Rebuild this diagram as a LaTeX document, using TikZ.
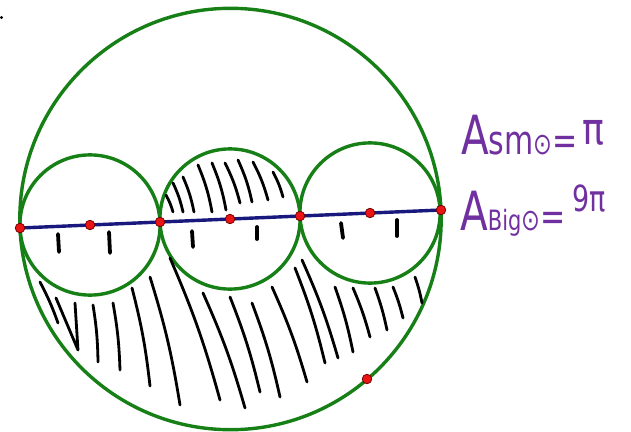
\documentclass[tikz,border=0pt]{standalone}
\usepackage{fontspec}
\newfontfamily\hand{DejaVu Sans}
\definecolor{gc}{RGB}{22,128,22}
\definecolor{bl}{RGB}{24,24,125}
\definecolor{pu}{RGB}{112,48,160}
\definecolor{rd}{RGB}{235,20,20}
\begin{document}
\begin{tikzpicture}[x=1pt,y=-1pt,line join=round,
  ptdot/.style={circle,fill=rd,draw=black!55!red,line width=0.8pt,inner sep=0pt,minimum size=9.5pt},
  greenc/.style={draw=gc,line width=3.4pt},
  hatch/.style={draw=black,line width=2.8pt,line cap=round},
  tickm/.style={draw=black,line width=3.8pt,line cap=round},
  lbl/.style={text=pu,font=\hand\fontsize{40}{40}\selectfont,xscale=0.75,inner sep=0pt,anchor=base west}]
\useasboundingbox (0,0) rectangle (631,431);

% centres
\coordinate (c0) at (230.5,219);
\coordinate (c1) at (90,225);
\coordinate (c2) at (230,219);
\coordinate (c3) at (370,213);

% circles
\draw[greenc] (c0) circle (210.7);
\draw[greenc] (c1) circle (70.1);
\draw[greenc] (c2) circle (70.1);
\draw[greenc] (c3) circle (70.1);

% named points
\path (20,228) coordinate (q1) (90,225) coordinate (q2) (160,222) coordinate (q3)
      (230,219) coordinate (q4) (300,216) coordinate (q5) (370,213) coordinate (q6)
      (441,210) coordinate (q7) (367,379) coordinate (q8);

\draw[draw=bl,line width=3.4pt] (q1) -- (q7);

% hatching in middle circle (upper)
\foreach \xa/\ya/\xb/\yb in {166/195/173/212, 173/183/183/212, 183/177/194/212, 198/165/212/212,
                   212/163/226/210, 225/163/240/203, 238/160/252/202, 253/162/268/200, 273/172/283/197}
  \draw[hatch] (\xa,\ya) to[bend left=6] (\xb,\yb);

% hatching lower region
\draw[hatch] (40,282) to[bend left=4] (58,323);
\draw[hatch] (56,298) -- (78,350) -- (75,303);
\draw[hatch] (93,305) to[bend left=4] (98,362);
\draw[hatch] (113,303) to[bend left=4] (120,370);
\foreach \xa/\ya/\xb/\yb in {132/288/150/386, 150/277/180/405, 170/258/220/400, 203/293/245/408,
   230/297/260/392, 252/303/280/397, 272/287/307/382, 295/268/325/363, 302/260/338/358,
   335/287/353/352, 353/288/370/337, 375/288/387/330, 393/287/403/318, 415/277/422/303}
  \draw[hatch] (\xa,\ya) to[bend left=4] (\xb,\yb);

% tick marks
\foreach \xa/\ya/\xb/\yb in {58/234/59/252, 109/232/110/253, 192/231/193/247,
   257/227/257/239, 341/223/343/238, 397/220/397/236}
  \draw[tickm] (\xa,\ya) -- (\xb,\yb);

% red points
\foreach \q in {q1,q2,q3,q4,q5,q6,q7,q8}
  \node[ptdot] (n\q) at (\q) {};

% tiny dot top-left
\fill (1.5,17.5) circle (1.6);

% labels
\node[lbl] (t1) at (461,154) {{\fontsize{54}{54}\selectfont A}sm{\fontsize{30}{30}\selectfont ⊙}=};
\node[lbl,font=\hand\fontsize{44}{44}\selectfont,xscale=1.1] (t2) at (582,144) {π};
\node[lbl] (t3) at (460,230) {{\fontsize{54}{54}\selectfont A}{\fontsize{28}{28}\selectfont Big}{\fontsize{30}{30}\selectfont ⊙}=};
\node[lbl,font=\hand\fontsize{36}{36}\selectfont,xscale=1] (t4) at (572,211) {9π};
\end{tikzpicture}
\end{document}
